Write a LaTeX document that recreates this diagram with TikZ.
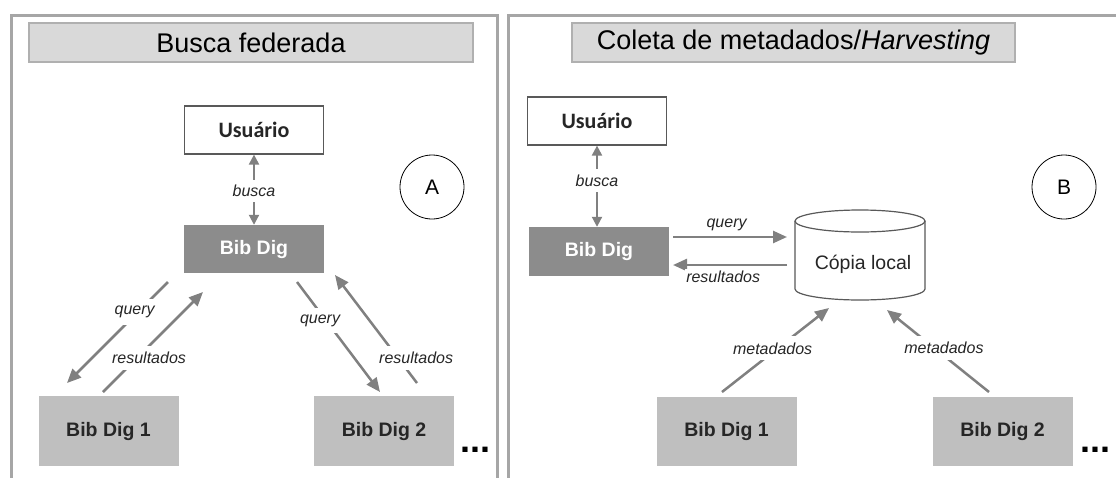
\documentclass[tikz,border=0pt]{standalone}
\usepackage{fontspec}
\setmainfont{Liberation Sans}
\newfontfamily\calfont{Carlito}
\usetikzlibrary{arrows.meta,shapes}

\definecolor{framegray}{HTML}{A6A6A6}
\definecolor{titlefill}{HTML}{D9D9D9}
\definecolor{titledraw}{HTML}{B0B0B0}
\definecolor{darkbox}{HTML}{8C8C8C}
\definecolor{lightbox}{HTML}{BFBFBF}
\definecolor{arrowgray}{HTML}{808080}
\definecolor{textgray}{HTML}{262626}
\definecolor{lineedge}{HTML}{595959}

\begin{document}
\begin{tikzpicture}[x=1pt,y=-1pt]
        \tikzstyle{panel}=[draw=framegray, line width=3pt]
        \tikzstyle{titlebar}=[draw=titledraw, line width=2pt, fill=titlefill, minimum height=39pt, text=black, font=\fontsize{27}{30}\selectfont]
        \tikzstyle{userbox}=[draw=lineedge, line width=1.2pt, fill=white, minimum width=139pt, minimum height=48pt, text=textgray, font=\calfont\bfseries\fontsize{22}{24}\selectfont]
        \tikzstyle{mainbib}=[fill=darkbox, text=white, minimum width=140pt, minimum height=48pt, font=\bfseries\fontsize{19.5}{22}\selectfont]
        \tikzstyle{bib}=[fill=lightbox, text=textgray, minimum width=140pt, minimum height=70pt, font=\bfseries\fontsize{19.5}{22}\selectfont]
        \tikzstyle{ring}=[draw, circle, line width=0.8pt, minimum size=64pt, font=\fontsize{21}{24}\selectfont]
        \tikzstyle{dots}=[anchor=base, inner sep=0pt, text=black, font=\bfseries\fontsize{36}{36}\selectfont]
        \tikzstyle{myarrows}=[draw=arrowgray, line width=2.5pt, -{Triangle[length=14pt,width=12pt]}]
        \tikzstyle{twoway}=[draw=arrowgray, line width=2pt, {Triangle[length=10pt,width=10pt]}-{Triangle[length=10pt,width=10pt]}]
        \tikzstyle{lbl}=[fill=white, inner sep=1.5pt, text=textgray, font=\itshape\fontsize{16}{18}\selectfont]
        \tikzstyle{cylline}=[draw=lineedge, line width=1.2pt, fill=white]

        \path[use as bounding box, clip] (0,0) rectangle (1116,477);
        \fill[white] (0,0) rectangle (1116,477);

        % Busca federada
        \draw[panel] (11,15) rectangle (497,500);
        \node[titlebar, minimum width=444pt] (titleA) at (251,42.5) {Busca federada};
        \node[userbox] (usuA) at (254,130) {Usuário};
        \node[mainbib] (bibA) at (254,249) {Bib Dig};
        \node[bib] (bibA1) at (108.5,431) {Bib Dig 1};
        \node[bib] (bibA2) at (384,431) {Bib Dig 2};
        \node[ring] (ringA) at (432,187) {A};
        \node[dots] (dotsA) at (475,452) {...};

        \coordinate (qA1) at (168,282);
        \coordinate (qA2) at (67,383);
        \coordinate (rA1) at (103,392);
        \coordinate (rA2) at (203,292);
        \coordinate (qA3) at (297,282);
        \coordinate (qA4) at (380,392);
        \coordinate (rA3) at (417,383);
        \coordinate (rA4) at (335,275);

        \draw[twoway] (usuA.south) -- (bibA.north) node[lbl, pos=0.52, inner ysep=5pt] {busca};
        \draw[myarrows] (qA1) -- (qA2) node[lbl, pos=0.3, xshift=-3pt, inner ysep=7pt] {query};
        \draw[myarrows] (rA1) -- (rA2) node[lbl, pos=0.34, xshift=12pt, inner ysep=6pt] {resultados};
        \draw[myarrows] (qA3) -- (qA4) node[lbl, pos=0.35, xshift=-6pt, inner ysep=7pt] {query};
        \draw[myarrows] (rA3) -- (rA4) node[lbl, pos=0.23, xshift=18pt, inner ysep=6pt] {resultados};

        % Coleta de metadados
        \draw[panel] (508,15) rectangle (1130,500);
        \node[titlebar, minimum width=443pt] (titleB) at (793.5,42.5) {Coleta de metadados/\textit{Harvesting}};
        \node[userbox] (usuB) at (597,121) {Usuário};
        \node[mainbib, minimum height=49pt] (bibB) at (599,251.5) {Bib Dig};
        \node[bib, minimum height=69pt] (bibB1) at (726.5,431.5) {Bib Dig 1};
        \node[bib, minimum height=69pt] (bibB2) at (1002.5,431.5) {Bib Dig 2};
        \node[ring] (ringB) at (1064,187) {B};
        \node[dots] (dotsB) at (1095,452) {...};

        \draw[cylline] (795,221) -- (795,289) arc[start angle=180, end angle=360, x radius=65pt, y radius=11pt] -- (925,221);
        \draw[cylline] (860,221) ellipse [x radius=65pt, y radius=11pt];
        \node[text=textgray, font=\fontsize{19.5}{22}\selectfont] (copia) at (863,264) {Cópia local};

        \coordinate (qB1) at (673,237);
        \coordinate (qB2) at (787,237);
        \coordinate (rB1) at (787,265);
        \coordinate (rB2) at (673,265);
        \coordinate (mB1) at (722,392);
        \coordinate (mB2) at (829,308);
        \coordinate (mB3) at (989,392);
        \coordinate (mB4) at (887,310);

        \draw[twoway] (usuB.south) -- (usuB.south |- bibB.north) node[lbl, pos=0.43, inner ysep=6pt] {busca};
        \draw[myarrows] (qB1) -- (qB2) node[lbl, above=3pt, pos=0.47] {query};
        \draw[myarrows] (rB1) -- (rB2) node[lbl, below=3pt, pos=0.56] {resultados};
        \draw[myarrows] (mB1) -- (mB2) node[lbl, pos=0.52, xshift=-5pt, inner ysep=6pt] {metadados};
        \draw[myarrows] (mB3) -- (mB4) node[lbl, pos=0.54, xshift=10pt, inner ysep=6pt] {metadados};
\end{tikzpicture}
\end{document}
